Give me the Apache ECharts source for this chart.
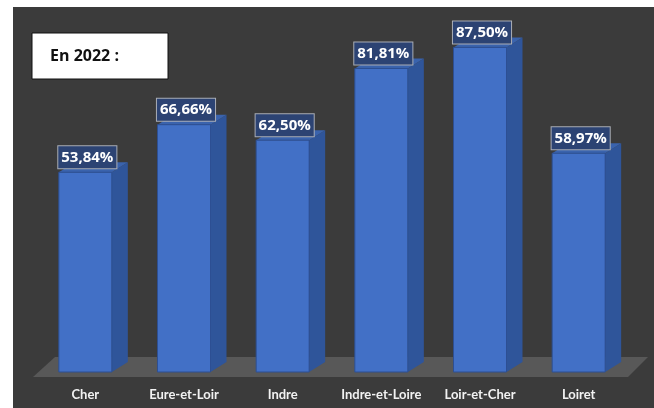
<!DOCTYPE html>
<html>
<head>
<meta charset="utf-8">
<script src="https://cdn.jsdelivr.net/npm/echarts@6/dist/echarts.min.js"></script>
<style>
  html, body { margin: 0; padding: 0; background: #fff; }
  #chart { width: 654px; height: 408px; }
</style>
</head>
<body>
<div id="chart"></div>
<script>
// departements and their rates in 2022
const departements = ['Cher', 'Eure-et-Loir', 'Indre', 'Indre-et-Loire', 'Loir-et-Cher', 'Loiret'];
const taux = [53.84, 66.66, 62.50, 81.81, 87.50, 58.97];
const titre = 'En 2022 :';

const myChart = echarts.init(document.getElementById('chart'));

// fake 3d: front face + side + top
const barW = 53;
const dx = 16;
const dy = 10;

const renderBar = (params, api) => {
  const top = api.coord([api.value(0), api.value(1)]);
  const base = api.coord([api.value(0), 0]);
  const x = top[0] - barW / 2;
  const x2 = x + barW;
  const label = api.value(1).toFixed(2).replace('.', ',') + '%';
  return {
    type: 'group',
    children: [
      {
        type: 'polygon',
        shape: { points: [[x2, top[1]], [x2 + dx, top[1] - dy], [x2 + dx, base[1] - dy], [x2, base[1]]] },
        style: { fill: '#2f559a' }
      },
      {
        type: 'polygon',
        shape: { points: [[x, top[1]], [x + dx, top[1] - dy], [x2 + dx, top[1] - dy], [x2, top[1]]] },
        style: { fill: '#3a63ad' }
      },
      {
        type: 'rect',
        shape: { x: x, y: top[1], width: barW, height: base[1] - top[1] },
        style: { fill: '#4270c6', stroke: '#2d4f93', lineWidth: 1 }
      },
      {
        type: 'text',
        x: top[0] + 2,
        y: top[1] - 4,
        style: {
          text: label,
          fill: '#ffffff',
          font: 'bold 15px "Open Sans", sans-serif',
          align: 'center',
          verticalAlign: 'bottom',
          backgroundColor: '#2c4373',
          borderColor: '#a9adb5',
          borderWidth: 1,
          padding: [4, 3, 3, 3]
        }
      }
    ]
  };
};

const option = {
  backgroundColor: '#ffffff',
  animation: false,
  grid: { left: 36, right: 26, top: 1, bottom: 36 },
  xAxis: {
    type: 'category',
    data: departements,
    axisLine: { show: false },
    axisTick: { show: false },
    axisLabel: {
      interval: 0,
      color: '#f2f2f2',
      fontFamily: 'Lato',
      fontWeight: 'bold',
      fontSize: 13,
      margin: 16
    }
  },
  yAxis: {
    type: 'value',
    min: 0,
    max: 100,
    show: false
  },
  graphic: [
    {
      type: 'rect',
      z: -10,
      shape: { x: 13, y: 7, width: 641, height: 401 },
      style: { fill: '#3b3b3b' }
    },
    {
      type: 'polygon',
      z: -9,
      shape: { points: [[33, 377], [55, 357], [648, 357], [628, 377]] },
      style: { fill: '#585858' }
    },
    {
      type: 'rect',
      z: 10,
      shape: { x: 32, y: 33, width: 136, height: 46 },
      style: { fill: '#ffffff', stroke: '#111111', lineWidth: 1 }
    },
    {
      type: 'text',
      z: 11,
      x: 50,
      y: 56,
      style: {
        text: titre,
        fill: '#111111',
        font: 'bold 16px "Open Sans", sans-serif',
        verticalAlign: 'middle'
      }
    }
  ],
  series: [
    {
      type: 'custom',
      renderItem: renderBar,
      data: taux.map((v, i) => [i, v])
    }
  ]
};

myChart.setOption(option);
</script>
</body>
</html>
